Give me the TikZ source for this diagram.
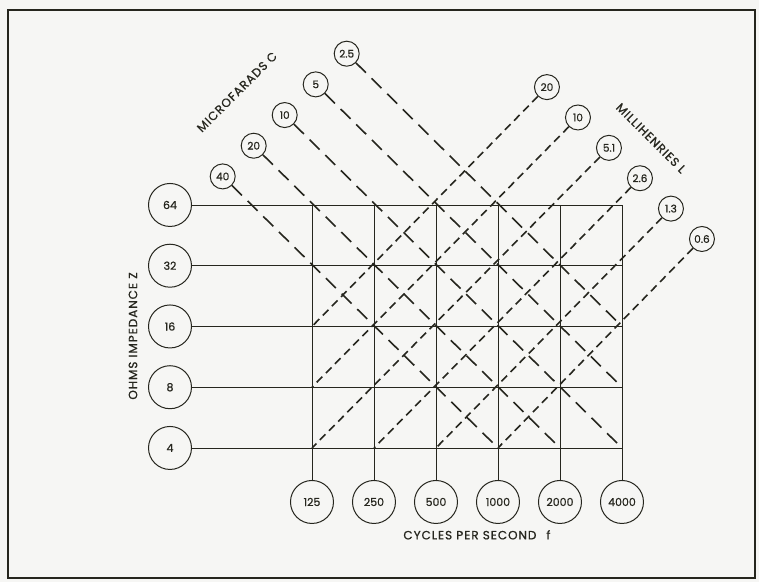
\documentclass[tikz,border=0pt]{standalone}
\usepackage{fontspec}
\setmainfont{Poppins}[FakeBold=0.8]
\newfontfamily\labfont{Poppins}[LetterSpace=8,FakeBold=0.8]
\usepackage{xcolor}
\definecolor{ink}{RGB}{38,38,30}
\definecolor{paper}{RGB}{246,246,244}
\usepackage{tikz}

\begin{document}
\begin{tikzpicture}[x=62pt,y=60.75pt,
      big/.style={circle,draw=ink,fill=paper,line width=1pt,minimum size=43pt,
                  inner sep=0pt,font=\fontsize{11}{12}\selectfont,text=ink},
      sm/.style={circle,draw=ink,fill=paper,line width=1pt,minimum size=25pt,
                 inner sep=0pt,font=\fontsize{10.5}{11}\selectfont,text=ink},
      g/.style={draw=ink,line width=0.9pt},
      cl/.style={draw=ink,line width=1.6pt,dash pattern=on 14pt off 8pt},
      ll/.style={draw=ink,line width=1.6pt,dash pattern=on 8pt off 5pt},
      lab/.style={font=\labfont\fontsize{12}{13}\selectfont,text=ink}]
  \useasboundingbox[fill=paper] (-5.032,-2.206) rectangle (7.210,7.374);
  \draw[ink,line width=2.4pt] (-4.903,-2.140) rectangle (7.145,7.210);
  % grid points
  \foreach \i in {0,...,5}
    \foreach \j in {0,...,4}
      \coordinate (p\i\j) at (\i,\j);
  % impedance rows
  \foreach \z [count=\j from 0] in {4,8,16,32,64}{
    \node[big] (z\j) at (-2.29,\j) {\z};
    \draw[g] (z\j) -- (p5\j);}
  % frequency columns
  \foreach \f [count=\i from 0] in {125,250,500,1000,2000,4000}{
    \node[big] (f\i) at (\i,-0.889) {\f};
    \draw[g] (f\i) -- (p\i4);}
  % capacitance lines
  \foreach \c/\e [count=\k from 0] in {40/30,20/40,10/50,5/51,2.5/52}{
    \node[sm] (c\k) at ({-1.44+0.5*\k},{4.47+0.505*\k}) {\c};
    \draw[cl] (c\k) -- (p\e);}
  % inductance lines
  \foreach \l/\e [count=\k from 0] in {20/02,10/01,5.1/00,2.6/10,1.3/20,0.6/30}{
    \node[sm] (l\k) at ({3.79+0.5*\k},{5.94-0.5*\k}) {\l};
    \draw[ll] (l\k) -- (p\e);}
  \node[lab,rotate=45] (mc) at (-1.21,5.86) {MICROFARADS C};
  \node[lab,rotate=-45] (mh) at (5.47,5.10) {MILLIHENRIES L};
  \node[lab,rotate=90] (oz) at (-2.887,1.844) {OHMS IMPEDANCE Z};
  \node[lab] (cy) at (2.66,-1.43) {CYCLES PER SECOND\hspace{10pt}f};
\end{tikzpicture}
\end{document}
